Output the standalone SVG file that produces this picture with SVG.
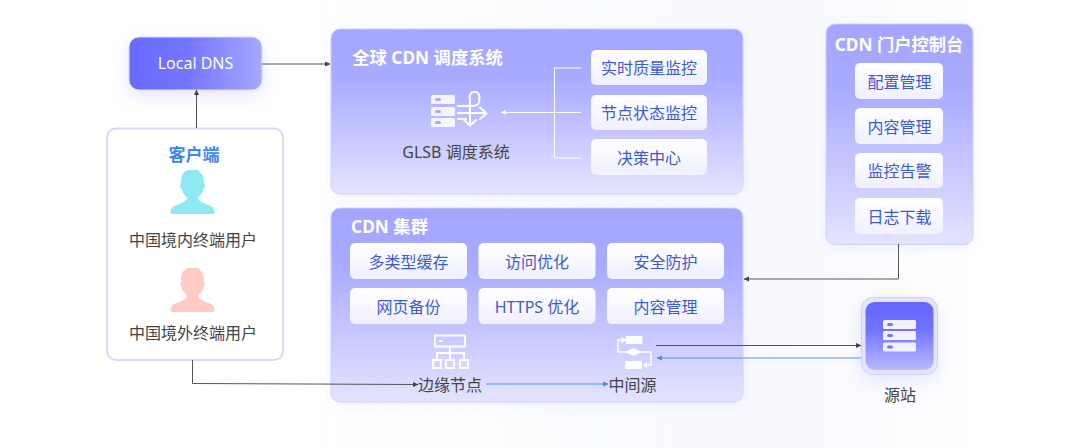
<svg xmlns="http://www.w3.org/2000/svg" width="1080" height="448" viewBox="0 0 1080 448">
<style>
text{font-family:"Noto Sans","Noto Sans CJK SC",sans-serif;text-anchor:middle}
.panel{fill:url(#pg);stroke:#cfd0ff;stroke-width:1}
.chip{fill:url(#cg)}
.chipt{font-size:16px;fill:#3a5bd3}
.title{font-size:17.300px;font-weight:700;fill:#fff}
.dark{font-size:16px;fill:#444}
.k{fill:none;stroke:#555;stroke-width:1}
.b{fill:none;stroke:#4d94ff;stroke-width:1}
.w{fill:none;stroke:#fff;stroke-width:1}
.ic{fill:none;stroke:#fff;stroke-width:2}
.icf{fill:#fff;fill-opacity:.85}
</style>
<defs>
<linearGradient id="pg" x1="0" y1="0" x2="0" y2="1"><stop offset="0" stop-color="#a3a5ff"/><stop offset=".3" stop-color="#a9abff"/><stop offset="1" stop-color="#e4e4ff"/></linearGradient>
<linearGradient id="cg" x1="0" y1="0" x2="0" y2="1"><stop offset="0" stop-color="#fff"/><stop offset="1" stop-color="#f0f0ff"/></linearGradient>
<linearGradient id="dns" x1="0" y1="0" x2="1" y2="0"><stop offset="0" stop-color="#686aff"/><stop offset=".45" stop-color="#7476ff"/><stop offset="1" stop-color="#a6a8ff"/></linearGradient>
<linearGradient id="src" x1="0" y1="0" x2="0" y2="1"><stop offset="0" stop-color="#6466ff"/><stop offset=".4" stop-color="#7072ff"/><stop offset="1" stop-color="#b9baff"/></linearGradient>
<linearGradient id="bgg" x1="0" y1="0" x2="1" y2="0"><stop offset="0" stop-color="#fff"/><stop offset=".7" stop-color="#f8f9fe"/><stop offset="1" stop-color="#fff"/></linearGradient>
<filter id="sh" x="-40%" y="-40%" width="180%" height="200%"><feDropShadow dx="0" dy="6" stdDeviation="9" flood-color="#8f91ff" flood-opacity=".22"/></filter>
<filter id="sh2" x="-15%" y="-15%" width="130%" height="130%"><feDropShadow dx="0" dy="3" stdDeviation="6" flood-color="#a0a2ff" flood-opacity=".14"/></filter>
<marker id="ak" markerWidth="6" markerHeight="6" refX="5" refY="3" orient="auto" markerUnits="userSpaceOnUse"><path d="M0 0.4L5.500 3L0 5.600z" fill="#444"/></marker>
<marker id="ab" markerWidth="6" markerHeight="6" refX="5" refY="3" orient="auto" markerUnits="userSpaceOnUse"><path d="M0 0.4L5.500 3L0 5.600z" fill="#3f8cff"/></marker>
<marker id="aw" markerWidth="6" markerHeight="6" refX="5" refY="3" orient="auto" markerUnits="userSpaceOnUse"><path d="M0 0.4L5.500 3L0 5.600z" fill="#fff"/></marker>
<path id="user" d="M-4 -22C1 -22 6 -23 7 -21C6 -20 7 -20 8 -19C11 -17 11.500 -13 11.500 -8C13 -7 12.500 -4 11 -3C10 1 8 3 6 5C5 8 7 9 11 11C16 13 21 14 22 19C22.500 21 22 22 20 22L-20 22C-22 22 -22.500 21 -22 19C-21 14 -16 13 -11 11C-7 9 -5 8 -6 5C-8 3 -10 1 -11 -3C-12.500 -4 -13 -7 -11.500 -8C-12 -16 -9 -21 -4 -22Z"/>
</defs>
<rect width="1080" height="448" fill="#fff"/>
<rect x="285" y="0" width="700" height="448" fill="url(#bgg)"/>

<g id="local-dns"><rect x="129" y="37" width="133" height="53" rx="10" fill="url(#dns)" stroke="#dcdcff" stroke-width="1" filter="url(#sh)"/><text x="195.500" y="69" font-size="16" fill="#fff">Local DNS</text></g>

<g id="client"><rect x="107" y="128.500" width="176" height="231.500" rx="9" fill="#fff" stroke="#d9d9ff" stroke-width="2"/>
<text x="194" y="160.500" font-size="17" font-weight="700" fill="#3b86f7">客户端</text>
<use href="#user" x="192.500" y="192" fill="#8deaf5"/>
<text x="193" y="246" class="dark">中国境内终端用户</text>
<use href="#user" x="192.500" y="290" fill="#ffcbc2"/>
<text x="193" y="339" class="dark">中国境外终端用户</text></g>

<g id="glsb-panel"><rect class="panel" x="331" y="29" width="412" height="165" rx="9" filter="url(#sh2)"/>
<text x="427.500" y="64" class="title">全球 CDN 调度系统</text>
<g class="icf"><rect x="431" y="95" width="24" height="9" rx="1.500"/><rect x="431" y="107" width="24" height="9" rx="1.500"/><rect x="431" y="118" width="24" height="9" rx="1.500"/></g>
<g fill="#a9abff"><rect x="435" y="98" width="6" height="3" rx="1.500"/><rect x="435" y="110" width="6" height="3" rx="1.500"/><rect x="435" y="121" width="6" height="3" rx="1.500"/></g>
<path class="ic" stroke-linecap="round" stroke-linejoin="round" d="M458 106H473C478 106 480.500 102 479 99A5 5 0 1 0 470 99L470 125M464 120L470 125.500L476 120M458 113H486M480 107.500L486.500 113.500L480 119M458 119H466"/>
<text x="456" y="157.500" class="dark">GLSB 调度系统</text>
<path class="w" d="M581 68H554.500V158H581M581 112.500H501" marker-end="url(#aw)"/>
</g>
<g id="c-realtime"><rect class="chip" x="591" y="50" width="116" height="35" rx="5"/><text class="chipt" x="649" y="74">实时质量监控</text></g>
<g id="c-nodestate"><rect class="chip" x="591" y="95" width="116" height="35" rx="5"/><text class="chipt" x="649" y="119">节点状态监控</text></g>
<g id="c-decision"><rect class="chip" x="591" y="139" width="116" height="36" rx="5"/><text class="chipt" x="649" y="163.500">决策中心</text></g>

<g id="cdn-panel"><rect class="panel" x="331" y="208" width="412" height="194" rx="9" filter="url(#sh2)"/>
<text x="389.500" y="232.500" class="title">CDN 集群</text>
<rect x="435" y="335.500" width="30" height="11" fill="none" stroke="#fff" stroke-width="2"/><rect x="439" y="340" width="4" height="2" fill="#fff"/>
<path class="ic" d="M450 346V353M437 359V353H464V359M450 353V359"/>
<rect x="433" y="360" width="8" height="8" class="ic"/><rect x="446" y="360" width="8" height="8" class="ic"/><rect x="460" y="360" width="8" height="8" class="ic"/>
<text x="450" y="390.500" class="dark">边缘节点</text>
<rect x="625.500" y="336" width="17" height="8" rx="1" fill="#fff"/>
<path fill="#fff" d="M625 352L633.500 348L642 352L633.500 356Z"/>
<rect x="625" y="361" width="17" height="8" rx="1" fill="#fff"/>
<path class="ic" style="stroke-width:1.500" d="M624 340H618V352H651V365H645M621 337.500L625 340L621 342.500M647 362.500L644 365L647 367.500"/>
<text x="632.500" y="390.500" class="dark">中间源</text>
</g>
<g id="c-cache"><rect class="chip" x="350" y="243" width="117" height="36" rx="5"/><text class="chipt" x="408.500" y="267.500">多类型缓存</text></g>
<g id="c-access"><rect class="chip" x="478.500" y="243" width="117" height="36" rx="5"/><text class="chipt" x="537" y="267.500">访问优化</text></g>
<g id="c-security"><rect class="chip" x="607" y="243" width="117" height="36" rx="5"/><text class="chipt" x="665.500" y="267.500">安全防护</text></g>
<g id="c-backup"><rect class="chip" x="350" y="288" width="117" height="36" rx="5"/><text class="chipt" x="408.500" y="312.500">网页备份</text></g>
<g id="c-https"><rect class="chip" x="478.500" y="288" width="117" height="36" rx="5"/><text class="chipt" x="537" y="312.500">HTTPS 优化</text></g>
<g id="c-content"><rect class="chip" x="607" y="288" width="117" height="36" rx="5"/><text class="chipt" x="665.500" y="312.500">内容管理</text></g>

<g id="portal-panel"><rect class="panel" x="826" y="24" width="147" height="220.500" rx="9" filter="url(#sh2)"/>
<text x="899" y="51" class="title">CDN 门户控制台</text></g>
<g id="p-config"><rect class="chip" x="855" y="63" width="88" height="36" rx="5"/><text class="chipt" x="899.500" y="87.500">配置管理</text></g>
<g id="p-content"><rect class="chip" x="855" y="108" width="88" height="36" rx="5"/><text class="chipt" x="899.500" y="132.500">内容管理</text></g>
<g id="p-monitor"><rect class="chip" x="855" y="153" width="88" height="35" rx="5"/><text class="chipt" x="899.500" y="177">监控告警</text></g>
<g id="p-log"><rect class="chip" x="855" y="198" width="88" height="36" rx="5"/><text class="chipt" x="899.500" y="222.500">日志下载</text></g>

<g id="source"><rect x="861.500" y="297.500" width="76" height="77" rx="11" fill="#e4e4ff" stroke="#cfd0ff" stroke-width="1" filter="url(#sh)"/>
<rect x="865.500" y="302" width="68" height="68" rx="9" fill="url(#src)"/>
<g fill="#f1f1ff"><rect x="883" y="320" width="33" height="9" rx="1.500"/><rect x="883" y="331" width="33" height="9" rx="1.500"/><rect x="883" y="342.500" width="33" height="9" rx="1.500"/></g>
<g fill="#7375ff"><rect x="887" y="323" width="6" height="3" rx="1.500"/><rect x="887" y="334" width="6" height="3" rx="1.500"/><rect x="887" y="345.500" width="6" height="3" rx="1.500"/></g>
<text x="900" y="401" class="dark">源站</text></g>

<g id="connectors">
<path class="k" d="M262 64H330" marker-end="url(#ak)"/>
<path class="k" d="M196.500 128V90" marker-end="url(#ak)"/>
<path class="k" d="M192.500 360V383.500L418 384.500" marker-end="url(#ak)"/>
<path class="k" d="M898.500 244V279H744" marker-end="url(#ak)"/>
<path class="b" d="M486 384H608" marker-end="url(#ab)"/>
<path class="k" d="M656 345.500H861" marker-end="url(#ak)"/>
<path class="b" d="M861 358H657" marker-end="url(#ab)"/>
</g>
</svg>
